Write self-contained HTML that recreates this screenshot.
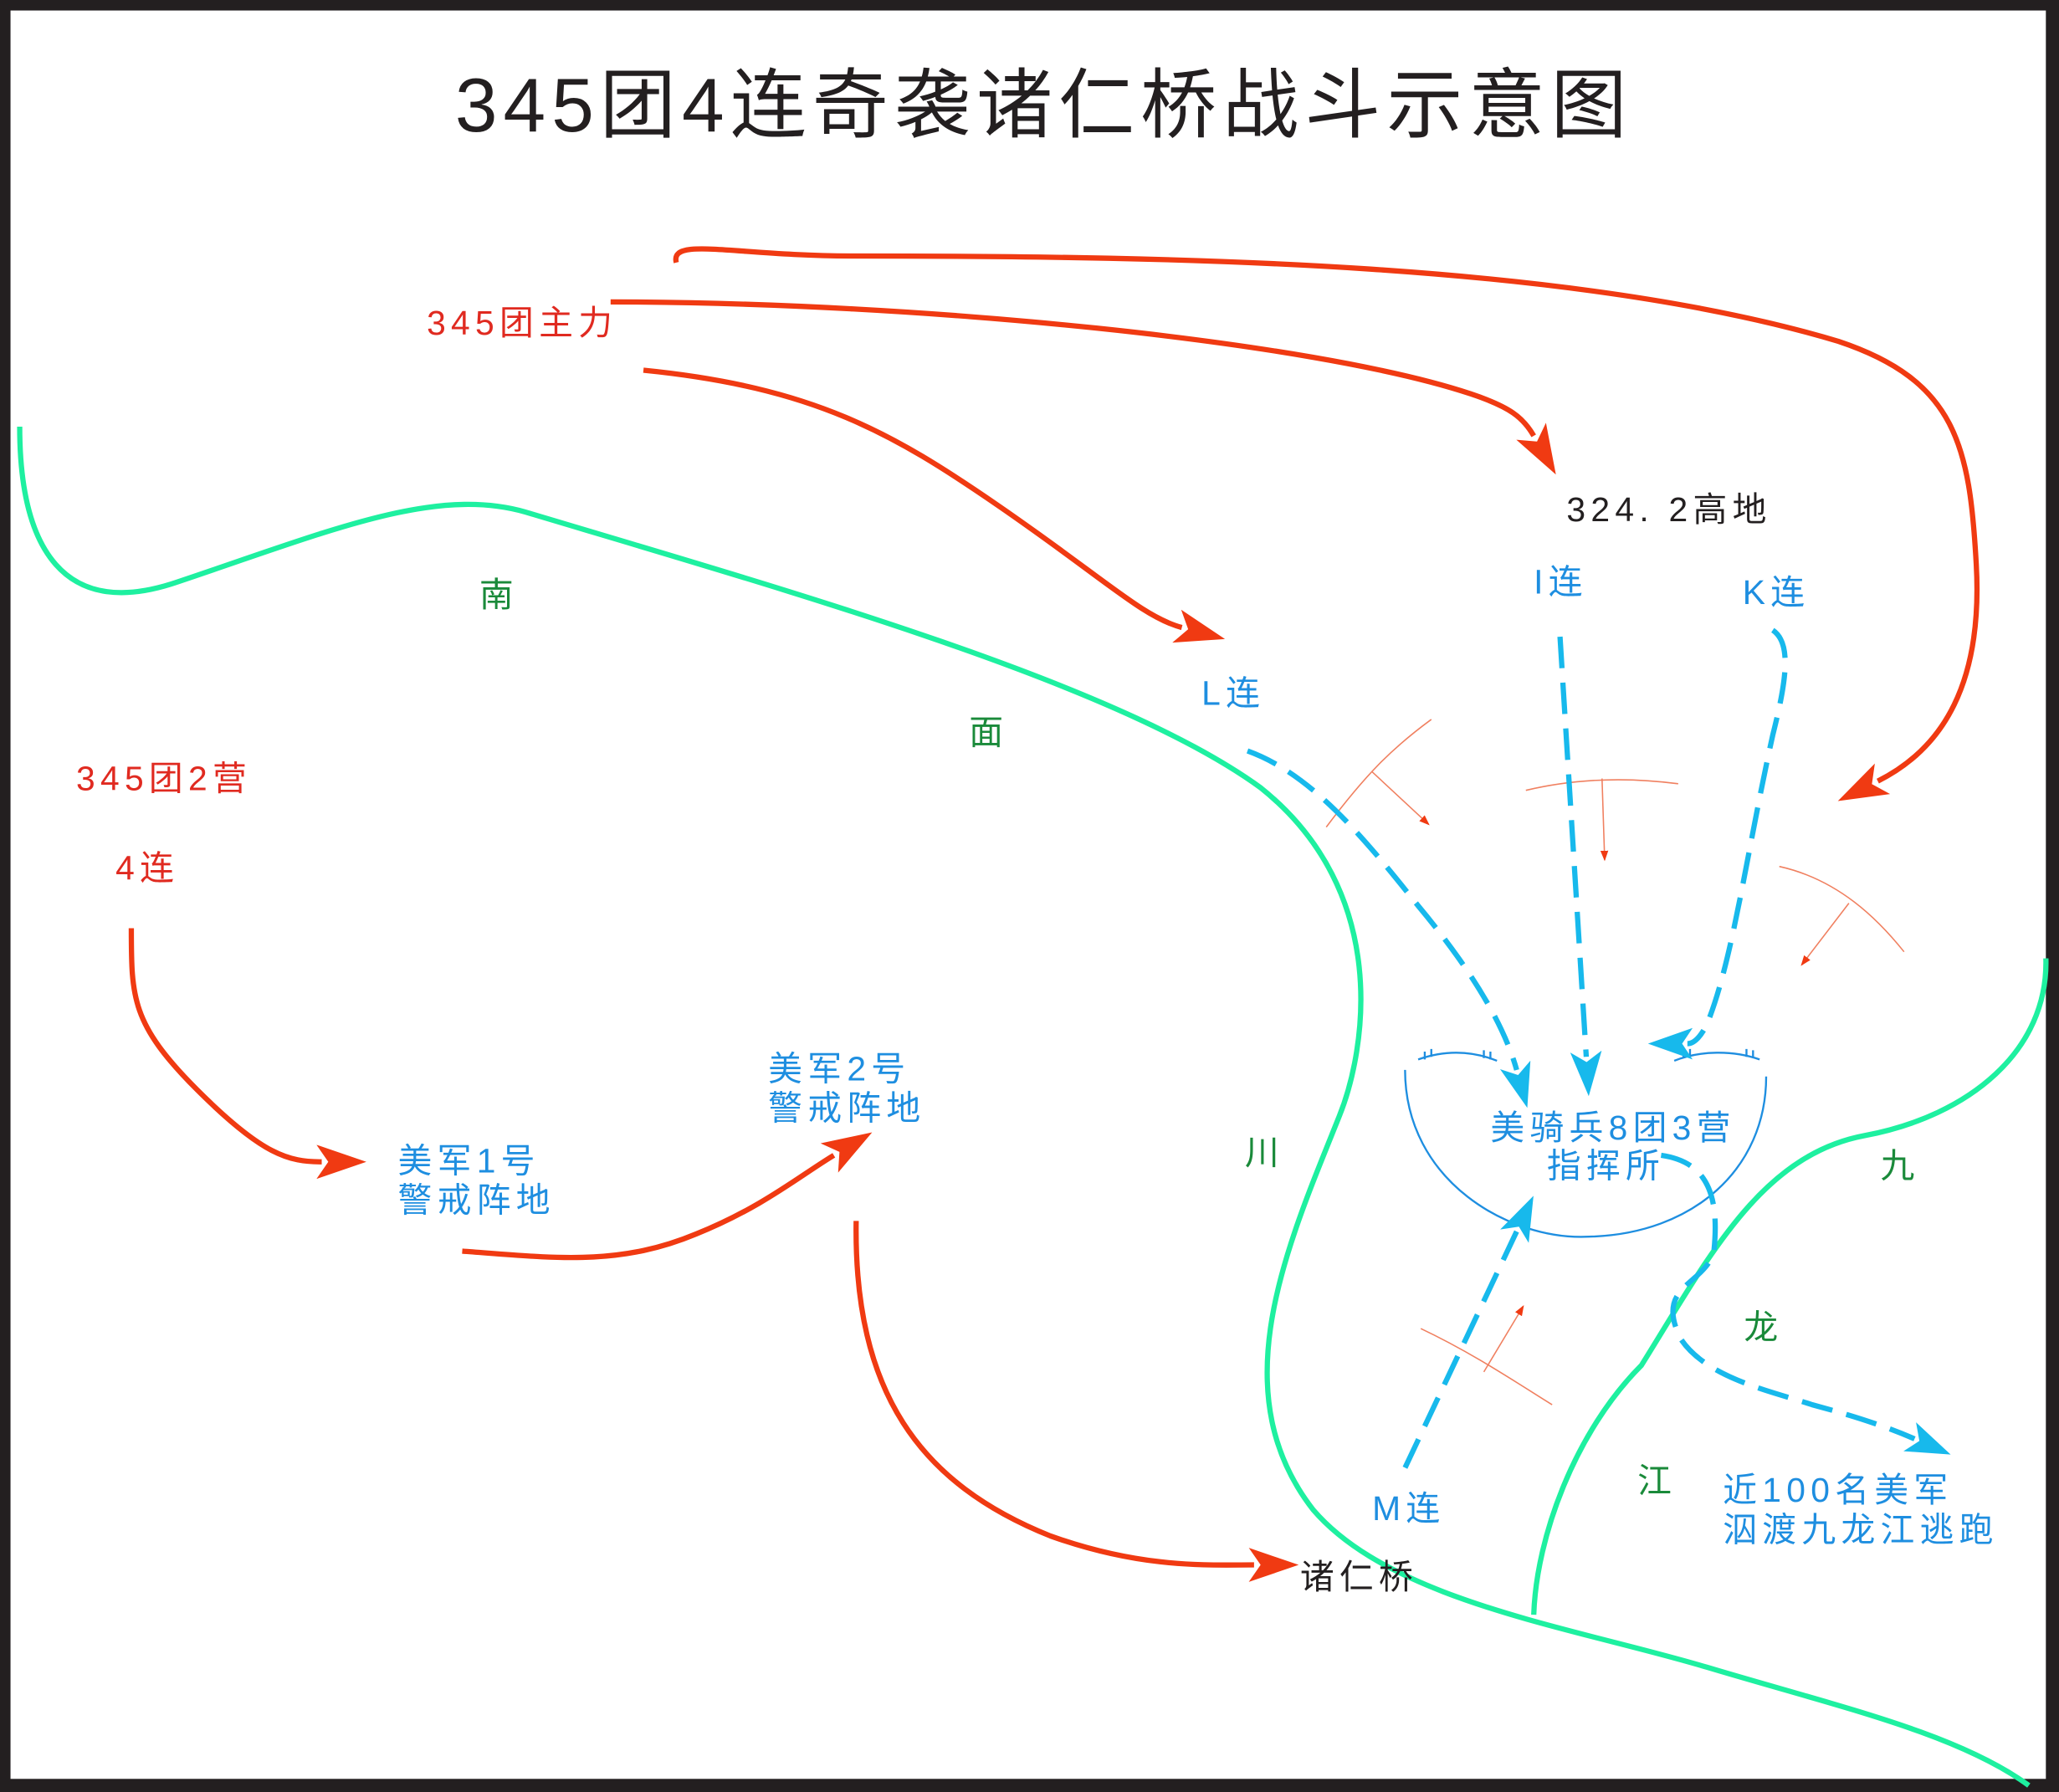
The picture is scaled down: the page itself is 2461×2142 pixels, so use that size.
<!DOCTYPE html>
<html><head><meta charset="utf-8">
<style>
html,body{margin:0;padding:0;background:#fff;}
svg{display:block;}
text{font-family:"Liberation Sans","Noto Sans CJK SC",sans-serif;}
</style></head>
<body>
<svg width="2461" height="2142" viewBox="0 0 1568 1365" preserveAspectRatio="none" xmlns="http://www.w3.org/2000/svg">
<defs>
<marker id="ra" markerUnits="userSpaceOnUse" markerWidth="40" markerHeight="30" refX="4" refY="15" orient="auto">
<path d="M0,2 L38,15 L0,28 L9,15 Z" fill="#f03a12"/></marker>
<marker id="ba" markerUnits="userSpaceOnUse" markerWidth="36" markerHeight="28" refX="4" refY="14" orient="auto">
<path d="M0,2 L34,14 L0,26 L8,14 Z" fill="#17b9ec"/></marker>
<marker id="sa" markerUnits="userSpaceOnUse" markerWidth="8" markerHeight="6" refX="7" refY="3" orient="auto">
<path d="M0,0 L8,3 L0,6 Z" fill="#f03a12"/></marker>
</defs>
<rect x="0" y="0" width="1568" height="1365" fill="#231f20"/>
<rect x="8" y="8" width="1550" height="1347" fill="#fff"/>

<text x="795" y="100" font-size="58" text-anchor="middle" fill="#231f20" letter-spacing="4.5">345团4连奇袭诸仁桥战斗示意图</text>

<g fill="none" stroke="#1ef0a0" stroke-width="4">
<path d="M15,325 C15,420 50,470 130,445 C250,405 330,370 400,390 C600,450 850,520 960,600 C1060,680 1040,800 1020,850 C980,950 930,1060 1000,1150 C1060,1220 1200,1240 1300,1270 C1400,1300 1490,1320 1545,1360"/>
<path d="M1558,730 C1560,800 1500,850 1420,865 C1340,880 1300,960 1250,1040 C1200,1090 1170,1170 1168,1230"/>
</g>

<g fill="none" stroke="#f03a12" stroke-width="4">
<path d="M515,200 C510,180 560,195 650,195 C900,195 1200,200 1400,260 C1490,290 1500,340 1505,430 C1510,520 1480,570 1430,595" marker-end="url(#ra)"/>
<path d="M465,230 C700,230 1000,260 1120,300 C1150,310 1160,318 1168,332" marker-end="url(#ra)"/>
<path d="M490,282 C620,295 680,330 760,385 C840,440 870,470 900,478" marker-end="url(#ra)"/>
<path d="M100,707 C100,760 100,780 150,830 C200,880 220,885 245,885" marker-end="url(#ra)"/>
<path d="M352,953 C420,958 470,965 530,940 C580,920 610,895 635,880" marker-end="url(#ra)"/>
<path d="M652,930 C650,1060 700,1130 800,1170 C870,1195 920,1192 955,1192" marker-end="url(#ra)"/>
</g>

<g fill="none" stroke="#f08060" stroke-width="1">
<path d="M1010,630 C1040,590 1060,570 1090,548"/>
<path d="M1045,588 L1088,628" marker-end="url(#sa)"/>
<path d="M1162,602 C1200,593 1240,592 1278,597"/>
<path d="M1220,593 L1222,655" marker-end="url(#sa)"/>
<path d="M1355,660 C1400,670 1430,700 1450,725"/>
<path d="M1408,688 L1372,735" marker-end="url(#sa)"/>
<path d="M1082,1012 C1120,1030 1150,1050 1182,1070"/>
<path d="M1130,1045 L1160,995" marker-end="url(#sa)"/>
</g>

<g fill="none" stroke="#1e8ee0" stroke-width="1.5">
<path d="M1070,815 C1070,900 1150,945 1210,942 C1290,940 1345,890 1345,820"/>
<path d="M1080,807 C1100,800 1120,800 1140,808"/>
<path d="M1275,808 C1295,800 1320,800 1340,807"/>
<path d="M1085,807 v-6 M1090,805 v-6 M1130,806 v-6 M1135,807 v-6 M1282,806 v-6 M1287,805 v-6 M1330,805 v-6 M1335,806 v-6"/>
</g>

<g fill="none" stroke="#17b9ec" stroke-width="4" stroke-dasharray="24,11">
<path d="M950,572 C1000,590 1040,640 1080,690 C1130,750 1148,790 1155,815" marker-end="url(#ba)"/>
<path d="M1188,485 L1208,805" marker-end="url(#ba)"/>
<path d="M1350,480 C1365,490 1360,520 1350,560 C1330,650 1320,730 1300,780 C1295,790 1290,795 1285,795" marker-end="url(#ba)"/>
<path d="M1070,1118 L1155,938" marker-end="url(#ba)"/>
<path d="M1265,880 C1300,885 1310,910 1305,955 C1295,980 1260,980 1280,1020 C1300,1050 1350,1060 1380,1070 C1410,1078 1435,1086 1458,1096" marker-end="url(#ba)"/>
</g>

<g font-size="26" letter-spacing="4">
<text x="325" y="255" fill="#e02a20">345团主力</text>
<text x="58" y="602" fill="#e02a20">345团2营</text>
<text x="88" y="670" fill="#e02a20">4连</text>
<text x="1193" y="397" fill="#231f20">324. 2高地</text>
<text x="990" y="1210" fill="#231f20">诸仁桥</text>
<text x="1168" y="452" fill="#1e8ee0">I连</text>
<text x="1327" y="460" fill="#1e8ee0">K连</text>
<text x="915" y="537" fill="#1e8ee0">L连</text>
<text x="1045" y="1158" fill="#1e8ee0">M连</text>
<text x="303" y="893" fill="#1e8ee0">美军1号</text>
<text x="303" y="923" fill="#1e8ee0">警戒阵地</text>
<text x="585" y="823" fill="#1e8ee0">美军2号</text>
<text x="585" y="853" fill="#1e8ee0">警戒阵地</text>
<text x="1135" y="868" fill="#1e8ee0">美骑兵8团3营</text>
<text x="1178" y="897" fill="#1e8ee0">指挥所</text>
<text x="1312" y="1144" fill="#1e8ee0">近100名美军</text>
<text x="1312" y="1174" fill="#1e8ee0">泅渡九龙江逃跑</text>
<text x="365" y="462" fill="#1a8a3a">南</text>
<text x="738" y="567" fill="#1a8a3a">面</text>
<text x="948" y="887" fill="#1a8a3a">川</text>
<text x="1432" y="897" fill="#1a8a3a">九</text>
<text x="1328" y="1020" fill="#1a8a3a">龙</text>
<text x="1247" y="1137" fill="#1a8a3a">江</text>
</g>
</svg>
</body></html>
